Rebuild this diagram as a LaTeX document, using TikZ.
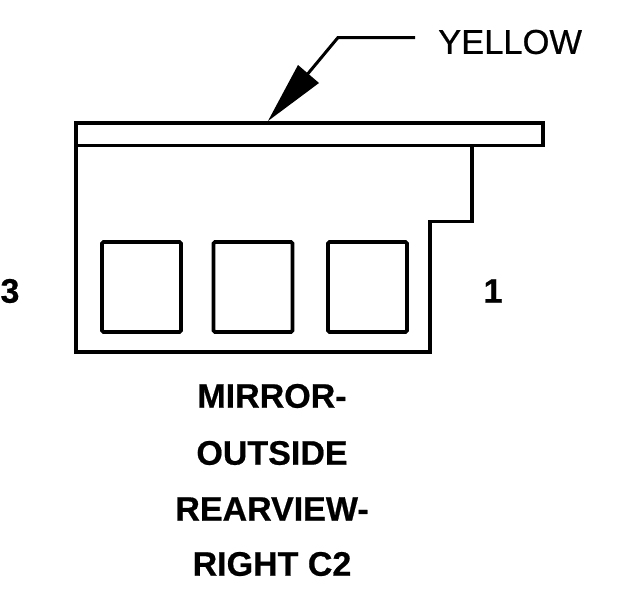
\documentclass[tikz,border=0pt]{standalone}
\usepackage{fontspec}
\setmainfont{Liberation Sans}
\begin{document}
\begin{tikzpicture}[x=1pt,y=-1pt,
  wire/.style={line width=3.8pt,line join=miter,black},
  thin wire/.style={line width=3pt,black},
  pinbox/.style={draw=black,line width=3.6pt,rounded corners=1.5pt,minimum width=79pt,minimum height=90pt,inner sep=0pt},
  bold label/.style={font=\fontsize{34}{40}\selectfont\bfseries\addfontfeature{FakeBold=0.6},inner sep=0pt},
  plain label/.style={font=\fontsize{34.5}{40}\selectfont\addfontfeature{FakeBold=0.6},inner sep=0pt}]
\useasboundingbox[fill=white] (0,0) rectangle (624,600);
\draw[wire] (76,123) rectangle (543,145.5);
\draw[wire] (76,145.5) -- (76,352) -- (430,352) -- (430,221.5) -- (472,221.5) -- (472,145.5);
\node[pinbox] (p3) at (141.5,287) {};
\node[pinbox] (p2) at (253,287) {};
\node[pinbox] (p1) at (367.5,287) {};
\node[plain label,anchor=west] (yellow) at (438,42) {YELLOW};
\node[bold label] (n3) at (10,291) {3};
\node[bold label] (n1) at (493,291) {1};
\node[bold label] (t1) at (272,396) {MIRROR-};
\node[bold label] (t2) at (272,453) {OUTSIDE};
\node[bold label] (t3) at (272,509) {REARVIEW-};
\node[bold label] (t4) at (272,564) {RIGHT C2};
\coordinate (w1) at (415,37.5);
\coordinate (w2) at (338,37.5);
\coordinate (w3) at (306,76);
\coordinate (tip) at (268,121);
\draw[thin wire] (w1) -- (w2) -- (w3);
\fill[black] (tip) -- (298,65) -- (319,83) -- cycle;
\end{tikzpicture}
\end{document}
